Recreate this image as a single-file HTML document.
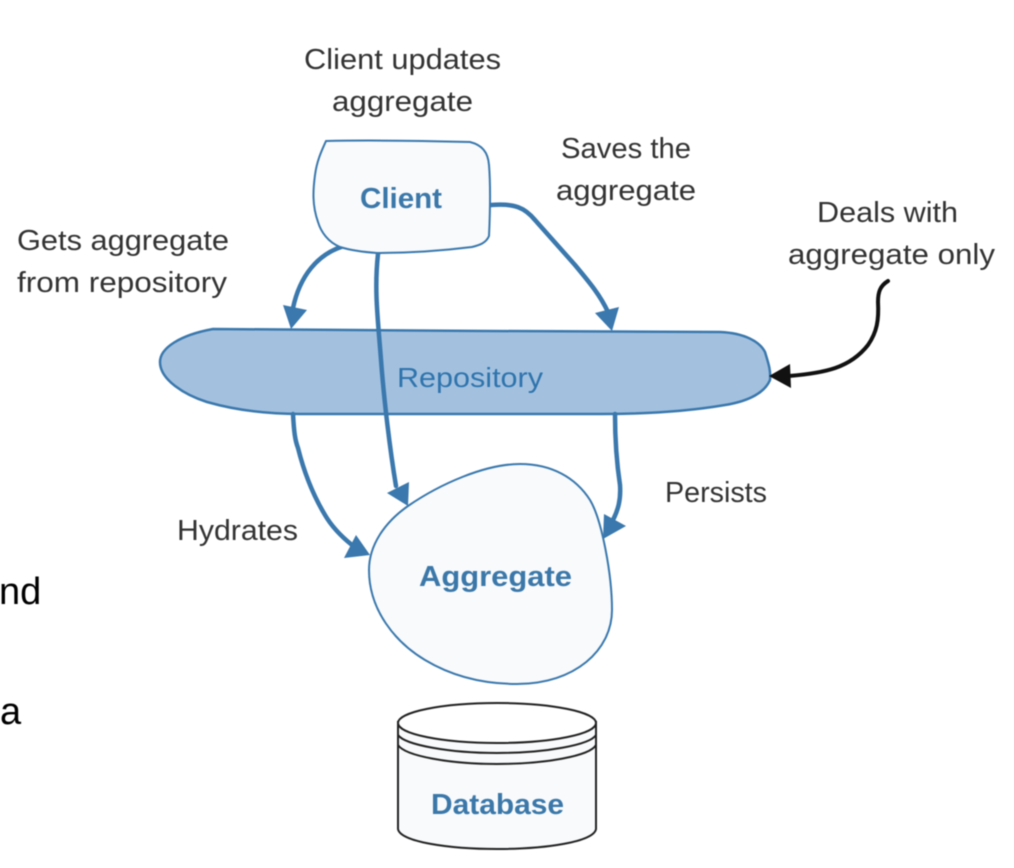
<!DOCTYPE html>
<html>
<head>
<meta charset="utf-8">
<style>
html,body{margin:0;padding:0;background:#fff;width:1014px;height:868px;overflow:hidden}
svg{display:block}
text{font-family:"Liberation Sans",sans-serif}
.l{font-size:29px;fill:#333}
.b{font-size:29px;font-weight:bold;fill:#3b78a9}
.k{font-size:38px;fill:#000}
.c{fill:none;stroke:#3a78ad;stroke-width:4.5;stroke-linecap:round}
.h{fill:#3a78ad}
.s{stroke:#3a78ad;stroke-width:2;fill:#f8fafc}
.d{stroke:#222;stroke-width:2;fill:none}
.soft{filter:blur(0.5px)}
</style>
</head>
<body>
<svg class="soft" width="1014" height="868" viewBox="0 0 1014 868" xmlns="http://www.w3.org/2000/svg">
<rect width="1014" height="868" fill="#fff"/>

<text class="k" x="-1" y="604">nd</text>
<text class="k" x="0" y="724">a</text>

<!-- Repository -->
<path d="M213 329 C330 331 600 331 720 332 C745 333 760 342 765 352 C768 362 771 370 770 380 C765 392 750 401 725 405 C690 411 650 414 600 414 L300 414 C265 414 235 410 207 402 C185 395 160 380 160 362 C160 348 180 335 213 329 Z" fill="#a3c1df" stroke="#3a78ad" stroke-width="2.5"/>
<text x="397" y="387" font-size="28" fill="#2f74ad" textLength="146" lengthAdjust="spacingAndGlyphs">Repository</text>

<!-- Connectors -->
<path class="c" d="M341 247 C318 255 300 275 293 308"/>
<path class="h" d="M291 329 L283 305 L307 310 Z"/>
<path class="c" d="M491 205 C515 203 525 208 535 220 L575 265 C590 283 600 295 608 312"/>
<path class="h" d="M612 331 L595 313 L619 307 Z"/>
<path class="c" d="M378 254 C374 290 378 320 381 360 C384 400 390 450 396 486"/>
<path class="h" d="M408 506 L387 493 L409 482 Z"/>
<path class="c" d="M293 414 C294 432 295 440 298 448 C306 480 316 500 325 515 C332 527 342 537 352 545"/>
<path class="h" d="M370 555 L344 558 L356 535 Z"/>
<path class="c" d="M615 414 C615 440 617 465 620 485 C621 500 618 510 613 520"/>
<path class="h" d="M626 526 L604 514 L603 539 Z"/>

<!-- Client -->
<path class="s" d="M326 141 C370 140 430 141 470 142 C482 145 488 152 489 165 C491 190 490 215 489 236 C486 243 480 245 472 247 C440 251 410 253 377 253 C362 252 350 250 340 247 C328 242 321 232 318 222 C312 205 313 190 315 175 C317 160 322 150 326 141 Z"/>
<text class="b" x="360" y="208" textLength="82" lengthAdjust="spacingAndGlyphs">Client</text>

<!-- Aggregate -->
<path class="s" d="M520 464 C552 464 576 478 590 500 C602 520 612 575 612 610 C612 650 575 684 517 684 C480 684 450 675 425 660 C395 642 369 610 369 570 C369 545 385 522 408 506 C440 484 485 464 520 464 Z"/>
<text class="b" x="419" y="586" textLength="153" lengthAdjust="spacingAndGlyphs">Aggregate</text>

<!-- Database -->
<path d="M398 722 L398 829 C400 842 450 849 497 849 C545 849 594 842 596 829 L596 722 Z" fill="#f8fafc" stroke="#222" stroke-width="2"/>
<ellipse cx="497" cy="723" rx="99" ry="20" fill="#fff" stroke="#222" stroke-width="2"/>
<path class="d" d="M398 723 L398 735 C405 745 450 753 497 753 C545 753 590 745 596 735 L596 723"/>
<path class="d" d="M398 735 L398 745 C405 756 450 764 497 764 C545 764 590 756 596 745 L596 735"/>
<text class="b" x="431" y="814" textLength="133" lengthAdjust="spacingAndGlyphs">Database</text>

<!-- Black arrow -->
<path d="M888 281 C880 286 878 292 878 302 C879 320 877 332 868 345 C850 368 825 373 789 376" fill="none" stroke="#111" stroke-width="4" stroke-linecap="round"/>
<path d="M769 376 L790 364 L791 388 Z" fill="#111"/>

<!-- Labels -->
<text class="l" x="304" y="69" textLength="197" lengthAdjust="spacingAndGlyphs">Client updates</text>
<text class="l" x="332" y="111" textLength="141" lengthAdjust="spacingAndGlyphs">aggregate</text>
<text class="l" x="561" y="158" textLength="130" lengthAdjust="spacingAndGlyphs">Saves the</text>
<text class="l" x="556" y="200" textLength="140" lengthAdjust="spacingAndGlyphs">aggregate</text>
<text class="l" x="17" y="250" textLength="212" lengthAdjust="spacingAndGlyphs">Gets aggregate</text>
<text class="l" x="17" y="292" textLength="210" lengthAdjust="spacingAndGlyphs">from repository</text>
<text class="l" x="817" y="222" textLength="141" lengthAdjust="spacingAndGlyphs">Deals with</text>
<text class="l" x="788" y="264" textLength="207" lengthAdjust="spacingAndGlyphs">aggregate only</text>
<text class="l" x="177" y="540" textLength="121" lengthAdjust="spacingAndGlyphs">Hydrates</text>
<text class="l" x="665" y="502" textLength="102" lengthAdjust="spacingAndGlyphs">Persists</text>
</svg>
</body>
</html>
